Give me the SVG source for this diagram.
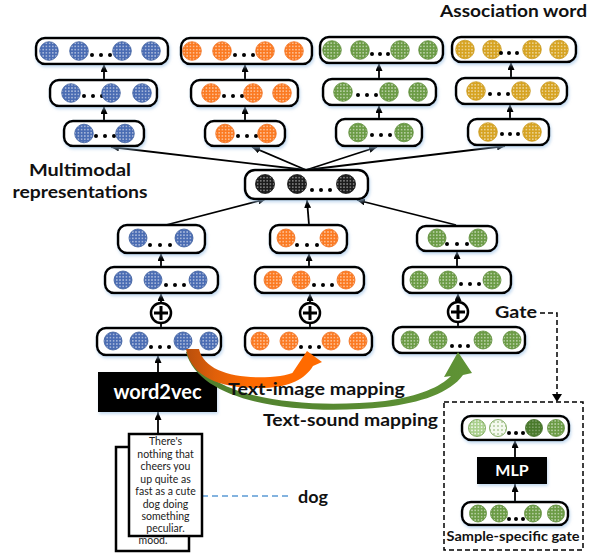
<svg xmlns="http://www.w3.org/2000/svg" width="601" height="555" viewBox="0 0 601 555">
  <style>
    text { font-family: Lato, "Liberation Sans", sans-serif; fill: #111; }
    .lbl { font-weight: bold; font-size: 17.5px; }
    .box { fill: #fff; stroke: #000; stroke-width: 2.5; filter: url(#glow); }
    .blk { fill: #000; filter: url(#glow); }
    .doc { fill: #fff; stroke: #000; stroke-width: 2.5; }
    .dt { font-size: 10.5px; text-anchor: middle; fill: #222; }
    .wt { fill: #fff; font-weight: bold; text-anchor: middle; }
    .b { fill: url(#pB); stroke: #3f5f9e; stroke-width: 0.8; }
    .o { fill: url(#pO); stroke: #f07020; stroke-width: 0.8; }
    .g { fill: url(#pG); stroke: #5e8d3a; stroke-width: 0.8; }
    .y { fill: url(#pY); stroke: #c9981c; stroke-width: 0.8; }
    .k { fill: url(#pK); stroke: #111; stroke-width: 0.8; }
    .gl { fill: url(#pGL); stroke: #6a9a45; stroke-width: 0.8; }
    .gw { fill: url(#pGW); stroke: #6a9a45; stroke-width: 0.8; }
    .gd { fill: url(#pGD); stroke: #3f6a25; stroke-width: 0.8; }
    .dot { fill: #000; }
    .arr { stroke: #000; stroke-width: 1.8; fill: none; marker-end: url(#ah); }
    .ln { stroke: #000; stroke-width: 1.8; fill: none; }
    .dash { stroke: #000; stroke-width: 1.5; fill: none; stroke-dasharray: 5 3; }
  </style>
  <defs>
    <filter id="glow" x="-10%" y="-20%" width="120%" height="150%">
      <feDropShadow dx="1" dy="2" stdDeviation="1.5" flood-color="#9dc3e6" flood-opacity="0.6"/>
    </filter>
    <pattern id="pB" width="3.2" height="3.2" patternUnits="userSpaceOnUse"><rect width="3.2" height="3.2" fill="#4a6cb3"/><circle cx="1.6" cy="1.6" r="0.75" fill="#fff" fill-opacity="0.7"/></pattern>
    <pattern id="pO" width="3.2" height="3.2" patternUnits="userSpaceOnUse"><rect width="3.2" height="3.2" fill="#fb7a22"/><circle cx="1.6" cy="1.6" r="0.75" fill="#fff" fill-opacity="0.7"/></pattern>
    <pattern id="pG" width="3.2" height="3.2" patternUnits="userSpaceOnUse"><rect width="3.2" height="3.2" fill="#6b9b45"/><circle cx="1.6" cy="1.6" r="0.75" fill="#fff" fill-opacity="0.7"/></pattern>
    <pattern id="pY" width="3.2" height="3.2" patternUnits="userSpaceOnUse"><rect width="3.2" height="3.2" fill="#d6a322"/><circle cx="1.6" cy="1.6" r="0.75" fill="#fff" fill-opacity="0.7"/></pattern>
    <pattern id="pK" width="3.2" height="3.2" patternUnits="userSpaceOnUse"><rect width="3.2" height="3.2" fill="#1c1c1c"/><circle cx="1.6" cy="1.6" r="0.75" fill="#fff" fill-opacity="0.6"/></pattern>
    <pattern id="pGL" width="3.2" height="3.2" patternUnits="userSpaceOnUse"><rect width="3.2" height="3.2" fill="#a9cf8c"/><circle cx="1.6" cy="1.6" r="0.9" fill="#fff" fill-opacity="0.9"/></pattern>
    <pattern id="pGW" width="4" height="4" patternUnits="userSpaceOnUse"><rect width="4" height="4" fill="#f4f9ef"/><circle cx="2" cy="2" r="0.7" fill="#6a9a45"/></pattern>
    <pattern id="pGD" width="3.2" height="3.2" patternUnits="userSpaceOnUse"><rect width="3.2" height="3.2" fill="#4a7a2c"/><circle cx="1.6" cy="1.6" r="0.7" fill="#fff" fill-opacity="0.45"/></pattern>
    <marker id="ah" viewBox="0 0 8 7" refX="8" refY="3.5" markerWidth="8" markerHeight="7" markerUnits="userSpaceOnUse" orient="auto">
      <path d="M0,0 L8,3.5 L0,7 z" fill="#000"/>
    </marker>
    <linearGradient id="orangeGrad" x1="186" y1="0" x2="250" y2="0" gradientUnits="userSpaceOnUse">
      <stop offset="0" stop-color="#b84f0c"/>
      <stop offset="0.45" stop-color="#e0600a"/>
      <stop offset="1" stop-color="#ff6a00"/>
    </linearGradient>
    <linearGradient id="greenGrad" x1="190" y1="0" x2="470" y2="0" gradientUnits="userSpaceOnUse">
      <stop offset="0" stop-color="#4f7f2e"/>
      <stop offset="1" stop-color="#5f9335"/>
    </linearGradient>
  </defs>

  <!-- labels -->
  <text class="lbl" x="440" y="17" textLength="147" lengthAdjust="spacingAndGlyphs">Association word</text>
  <text class="lbl" x="80" y="176" text-anchor="middle" textLength="102" lengthAdjust="spacingAndGlyphs">Multimodal</text>
  <text class="lbl" x="80" y="198" text-anchor="middle" textLength="135" lengthAdjust="spacingAndGlyphs">representations</text>

  <!-- connectors -->
  <g id="connectors">
    <!-- association tiers -->
    <path class="arr" d="M104 121 V106"/>
    <path class="arr" d="M104 80 V64"/>
    <path class="arr" d="M245 121 V106"/>
    <path class="arr" d="M245 80 V64"/>
    <path class="arr" d="M379 119 V105"/>
    <path class="arr" d="M379 79 V63"/>
    <path class="arr" d="M510 119 V104"/>
    <path class="arr" d="M511 78 V62"/>
    <!-- multimodal fan-out -->
    <path class="arr" d="M306 170 L111 147"/>
    <path class="arr" d="M306 170 L252 147"/>
    <path class="arr" d="M306 170 L377 147"/>
    <path class="arr" d="M306 170 L505 146"/>
    <!-- modality inputs -->
    <path class="arr" d="M166 225 L266 199"/>
    <path class="arr" d="M309 225 L307 200"/>
    <path class="arr" d="M456 225 L357 200"/>
    <!-- modality stacks -->
    <path class="arr" d="M161 267 V253"/>
    <path class="arr" d="M161 303 V293"/>
    <path class="ln" d="M161 328 V323"/>
    <path class="arr" d="M309 267 V253"/>
    <path class="arr" d="M310 303 V293"/>
    <path class="ln" d="M310 328 V323"/>
    <path class="arr" d="M457 267 V251"/>
    <path class="arr" d="M458 302 V293"/>
    <path class="ln" d="M458 327 V322"/>
    <!-- word2vec path -->
    <path class="arr" d="M158 372 V355"/>
    <path class="arr" d="M158 434 V412"/>
    <!-- gate -->
    <path class="dash" d="M540 313 H557 V395"/>
    <path d="M552 394 L557 402 L562 394 z" fill="#000"/>
    <path class="arr" d="M515 502 V484"/>
    <path class="arr" d="M515 457 V440"/>
    <!-- document to keyword -->
    <path d="M202 496 H290" stroke="#5b9bd5" stroke-width="1.6" stroke-dasharray="6 4" fill="none"/>
  </g>

  <!-- association word tier: text -->
  <g id="assoc-text">
    <g id="at3"><rect class="box" x="36" y="38" width="132" height="26" rx="9"/>
      <circle class="b" cx="49" cy="51" r="9.3"/><circle class="b" cx="79" cy="51" r="9.3"/>
      <circle class="dot" cx="92" cy="55" r="2"/><circle class="dot" cx="101" cy="55" r="2"/><circle class="dot" cx="110" cy="55" r="2"/>
      <circle class="b" cx="122" cy="51" r="9.3"/><circle class="b" cx="151" cy="51" r="9.3"/></g>
    <g id="at2"><rect class="box" x="50" y="80" width="107" height="26" rx="9"/>
      <circle class="b" cx="71" cy="93" r="9.3"/>
      <circle class="dot" cx="84" cy="96" r="2"/><circle class="dot" cx="93" cy="96" r="2"/><circle class="dot" cx="102" cy="96" r="2"/>
      <circle class="b" cx="111" cy="93" r="9.3"/><circle class="b" cx="142" cy="93" r="9.3"/></g>
    <g id="at1"><rect class="box" x="64" y="121" width="80" height="25" rx="9"/>
      <circle class="b" cx="84" cy="133.5" r="9.3"/>
      <circle class="dot" cx="96" cy="136" r="2"/><circle class="dot" cx="105" cy="136" r="2"/><circle class="dot" cx="114" cy="136" r="2"/>
      <circle class="b" cx="125" cy="133.5" r="9.3"/></g>
  </g>
  <g id="assoc-image">
    <g id="ai3"><rect class="box" x="181" y="38" width="131" height="26" rx="9"/>
      <circle class="o" cx="192" cy="51" r="9.3"/><circle class="o" cx="222" cy="51" r="9.3"/>
      <circle class="dot" cx="235" cy="55" r="2"/><circle class="dot" cx="244" cy="55" r="2"/><circle class="dot" cx="253" cy="55" r="2"/>
      <circle class="o" cx="265" cy="51" r="9.3"/><circle class="o" cx="294" cy="51" r="9.3"/></g>
    <g id="ai2"><rect class="box" x="191" y="80" width="107" height="26" rx="9"/>
      <circle class="o" cx="211" cy="93" r="9.3"/>
      <circle class="dot" cx="224" cy="96" r="2"/><circle class="dot" cx="233" cy="96" r="2"/><circle class="dot" cx="242" cy="96" r="2"/>
      <circle class="o" cx="253" cy="93" r="9.3"/><circle class="o" cx="282" cy="93" r="9.3"/></g>
    <g id="ai1"><rect class="box" x="205" y="121" width="80" height="25" rx="9"/>
      <circle class="o" cx="225" cy="133.5" r="9.3"/>
      <circle class="dot" cx="238" cy="136" r="2"/><circle class="dot" cx="247" cy="136" r="2"/><circle class="dot" cx="256" cy="136" r="2"/>
      <circle class="o" cx="267" cy="133.5" r="9.3"/></g>
  </g>
  <g id="assoc-sound">
    <g id="as3"><rect class="box" x="320" y="37" width="123" height="26" rx="9"/>
      <circle class="g" cx="332" cy="50" r="9.3"/><circle class="g" cx="360" cy="50" r="9.3"/>
      <circle class="dot" cx="372" cy="54" r="2"/><circle class="dot" cx="380" cy="54" r="2"/><circle class="dot" cx="388" cy="54" r="2"/>
      <circle class="g" cx="400" cy="50" r="9.3"/><circle class="g" cx="428" cy="50" r="9.3"/></g>
    <g id="as2"><rect class="box" x="323" y="79" width="113" height="26" rx="9"/>
      <circle class="g" cx="343" cy="92" r="9.3"/>
      <circle class="dot" cx="358" cy="95" r="2"/><circle class="dot" cx="367" cy="95" r="2"/><circle class="dot" cx="376" cy="95" r="2"/>
      <circle class="g" cx="389" cy="92" r="9.3"/><circle class="g" cx="418" cy="92" r="9.3"/></g>
    <g id="as1"><rect class="box" x="336" y="119" width="86" height="27" rx="9"/>
      <circle class="g" cx="358" cy="132.5" r="9.3"/>
      <circle class="dot" cx="372" cy="135" r="2"/><circle class="dot" cx="381" cy="135" r="2"/><circle class="dot" cx="390" cy="135" r="2"/>
      <circle class="g" cx="404" cy="132.5" r="9.3"/></g>
  </g>
  <g id="assoc-fused">
    <g id="af3"><rect class="box" x="452" y="37" width="124" height="25" rx="9"/>
      <circle class="y" cx="465" cy="49.5" r="9.3"/><circle class="y" cx="492" cy="49.5" r="9.3"/>
      <circle class="dot" cx="501" cy="53" r="2"/><circle class="dot" cx="509" cy="53" r="2"/><circle class="dot" cx="517" cy="53" r="2"/>
      <circle class="y" cx="532" cy="49.5" r="9.3"/><circle class="y" cx="559" cy="49.5" r="9.3"/></g>
    <g id="af2"><rect class="box" x="456" y="78" width="111" height="26" rx="9"/>
      <circle class="y" cx="476" cy="91" r="9.3"/>
      <circle class="dot" cx="490" cy="94" r="2"/><circle class="dot" cx="499" cy="94" r="2"/><circle class="dot" cx="508" cy="94" r="2"/>
      <circle class="y" cx="521" cy="91" r="9.3"/><circle class="y" cx="550" cy="91" r="9.3"/></g>
    <g id="af1"><rect class="box" x="468" y="119" width="81" height="26" rx="9"/>
      <circle class="y" cx="488" cy="132" r="9.3"/>
      <circle class="dot" cx="502" cy="134" r="2"/><circle class="dot" cx="510" cy="134" r="2"/><circle class="dot" cx="518" cy="134" r="2"/>
      <circle class="y" cx="532" cy="132" r="9.3"/></g>
  </g>

  <!-- multimodal representation -->
  <g id="multimodal"><rect class="box" x="245" y="170" width="123" height="29" rx="10"/>
    <circle class="k" cx="265" cy="184" r="9.5"/><circle class="k" cx="297" cy="184" r="9.5"/>
    <circle class="dot" cx="312" cy="190" r="2"/><circle class="dot" cx="321" cy="190" r="2"/><circle class="dot" cx="330" cy="190" r="2"/>
    <circle class="k" cx="346" cy="184" r="9.5"/></g>

  <!-- text branch -->
  <g id="text-branch">
    <g id="t3"><rect class="box" x="118" y="225" width="87" height="28" rx="9"/>
      <circle class="b" cx="138" cy="238" r="9"/>
      <circle class="dot" cx="150" cy="245" r="2"/><circle class="dot" cx="160" cy="245" r="2"/><circle class="dot" cx="170" cy="245" r="2"/>
      <circle class="b" cx="184" cy="238" r="9"/></g>
    <g id="t2"><rect class="box" x="105" y="267" width="113" height="26" rx="9"/>
      <circle class="b" cx="123" cy="280" r="9"/><circle class="b" cx="153" cy="280" r="9"/>
      <circle class="dot" cx="166" cy="285" r="2"/><circle class="dot" cx="175" cy="285" r="2"/><circle class="dot" cx="184" cy="285" r="2"/>
      <circle class="b" cx="198" cy="280" r="9"/></g>
    <g id="t-sum"><circle cx="161" cy="313" r="10" fill="#fff" stroke="#000" stroke-width="2.5"/>
      <path d="M154 313 H168 M161 306 V320" stroke="#000" stroke-width="3"/></g>
    <g id="t1"><rect class="box" x="97" y="328" width="124" height="27" rx="9"/>
      <circle class="b" cx="113" cy="341" r="9"/><circle class="b" cx="139" cy="341" r="9"/>
      <circle class="dot" cx="151" cy="347" r="2"/><circle class="dot" cx="160" cy="347" r="2"/><circle class="dot" cx="169" cy="347" r="2"/>
      <circle class="b" cx="183" cy="341" r="9"/><circle class="b" cx="209" cy="341" r="9"/></g>
  </g>

  <!-- image branch -->
  <g id="image-branch">
    <g id="i3"><rect class="box" x="270" y="225" width="77" height="28" rx="9"/>
      <circle class="o" cx="286" cy="238" r="9"/>
      <circle class="dot" cx="297" cy="245" r="2"/><circle class="dot" cx="307" cy="245" r="2"/><circle class="dot" cx="317" cy="245" r="2"/>
      <circle class="o" cx="329" cy="238" r="9"/></g>
    <g id="i2"><rect class="box" x="255" y="267" width="109" height="26" rx="9"/>
      <circle class="o" cx="273" cy="280" r="9"/><circle class="o" cx="301" cy="280" r="9"/>
      <circle class="dot" cx="314" cy="285" r="2"/><circle class="dot" cx="323" cy="285" r="2"/><circle class="dot" cx="332" cy="285" r="2"/>
      <circle class="o" cx="346" cy="280" r="9"/></g>
    <g id="i-sum"><circle cx="310" cy="313" r="10" fill="#fff" stroke="#000" stroke-width="2.5"/>
      <path d="M303 313 H317 M310 306 V320" stroke="#000" stroke-width="3"/></g>
    <g id="i1"><rect class="box" x="245" y="328" width="127" height="27" rx="9"/>
      <circle class="o" cx="260" cy="341" r="9"/><circle class="o" cx="289" cy="341" r="9"/>
      <circle class="dot" cx="301" cy="347" r="2"/><circle class="dot" cx="310" cy="347" r="2"/><circle class="dot" cx="319" cy="347" r="2"/>
      <circle class="o" cx="331" cy="341" r="9"/><circle class="o" cx="358" cy="341" r="9"/></g>
  </g>

  <!-- sound branch -->
  <g id="sound-branch">
    <g id="s3"><rect class="box" x="417" y="226" width="80" height="25" rx="9"/>
      <circle class="g" cx="437" cy="238" r="9"/>
      <circle class="dot" cx="447" cy="244" r="2"/><circle class="dot" cx="457" cy="244" r="2"/><circle class="dot" cx="467" cy="244" r="2"/>
      <circle class="g" cx="478" cy="238" r="9"/></g>
    <g id="s2"><rect class="box" x="403" y="267" width="108" height="26" rx="9"/>
      <circle class="g" cx="419" cy="280" r="9"/><circle class="g" cx="448" cy="280" r="9"/>
      <circle class="dot" cx="461" cy="284" r="2"/><circle class="dot" cx="470" cy="284" r="2"/><circle class="dot" cx="479" cy="284" r="2"/>
      <circle class="g" cx="492" cy="280" r="9"/></g>
    <g id="s-sum"><circle cx="458" cy="312" r="10" fill="#fff" stroke="#000" stroke-width="2.5"/>
      <path d="M451 312 H465 M458 305 V319" stroke="#000" stroke-width="3"/></g>
    <g id="s1"><rect class="box" x="393" y="327" width="132" height="26" rx="9"/>
      <circle class="g" cx="410" cy="340" r="9"/><circle class="g" cx="438" cy="340" r="9"/>
      <circle class="dot" cx="452" cy="346" r="2"/><circle class="dot" cx="460" cy="346" r="2"/><circle class="dot" cx="468" cy="346" r="2"/>
      <circle class="g" cx="483" cy="340" r="9"/><circle class="g" cx="512" cy="340" r="9"/></g>
  </g>

  <text class="lbl" x="495" y="318" textLength="42" lengthAdjust="spacingAndGlyphs">Gate</text>

  <!-- word2vec encoder -->
  <g id="word2vec"><rect class="blk" x="98" y="372" width="119" height="40"/>
    <text class="wt" x="157.5" y="399" font-size="20">word2vec</text></g>

  <!-- cross-modal mapping arrows -->
  <g id="mapping-arrows">
    <path d="M189 351 C205 398, 300 410, 385 401 C420 396, 440 387, 451 376 L444 377 L458 352 L472 373 L463 375 C450 393, 420 403, 385 407 C300 416, 200 404, 186 352 Z" fill="url(#greenGrad)"/>
    <path d="M199 349 C204 371, 235 379, 270 377 C285 376, 294 373, 299 370 L291 375 L307 351 L322 362 L313 366 C305 379, 290 387, 265 388 C225 389, 192 380, 186 349 Z" fill="url(#orangeGrad)"/>
  </g>
  <text class="lbl" x="228" y="395" textLength="177" lengthAdjust="spacingAndGlyphs">Text-image mapping</text>
  <text class="lbl" x="263" y="426" textLength="175" lengthAdjust="spacingAndGlyphs">Text-sound mapping</text>

  <!-- input documents -->
  <g id="documents">
    <rect class="doc" x="116" y="447" width="73" height="104"/>
    <text class="dt" x="153" y="544">mood.</text>
    <rect class="doc" x="129" y="434" width="73" height="102"/>
    <text class="dt" x="165.5" y="445">There's</text>
    <text class="dt" x="165.5" y="458">nothing that</text>
    <text class="dt" x="165.5" y="470">cheers you</text>
    <text class="dt" x="165.5" y="483">up quite as</text>
    <text class="dt" x="165.5" y="495">fast as a cute</text>
    <text class="dt" x="165.5" y="508">dog doing</text>
    <text class="dt" x="165.5" y="520">something</text>
    <text class="dt" x="165.5" y="532">peculiar.</text>
  </g>
  <text class="lbl" x="298" y="503" font-size="19" textLength="30" lengthAdjust="spacingAndGlyphs">dog</text>

  <!-- sample-specific gate -->
  <g id="gate">
    <rect x="444" y="402" width="139" height="148" fill="none" stroke="#000" stroke-width="1.5" stroke-dasharray="5 3"/>
    <g id="gate-out"><rect class="box" x="462" y="416" width="107" height="24" rx="9"/>
      <circle class="gl" cx="477" cy="428" r="8.5"/><circle class="gw" cx="498" cy="428" r="8.5"/>
      <circle class="dot" cx="509" cy="433" r="2"/><circle class="dot" cx="516" cy="433" r="2"/><circle class="dot" cx="523" cy="433" r="2"/>
      <circle class="gd" cx="534" cy="428" r="8.5"/><circle class="g" cx="556" cy="428" r="8.5"/></g>
    <g id="mlp"><rect class="blk" x="477" y="457" width="70" height="27"/>
      <text class="wt" x="512" y="476" font-size="16">MLP</text></g>
    <g id="gate-in"><rect class="box" x="462" y="502" width="106" height="23" rx="9"/>
      <circle class="g" cx="478" cy="513.5" r="8.5"/><circle class="g" cx="499" cy="513.5" r="8.5"/>
      <circle class="dot" cx="509" cy="519" r="2"/><circle class="dot" cx="516" cy="519" r="2"/><circle class="dot" cx="523" cy="519" r="2"/>
      <circle class="g" cx="533" cy="513.5" r="8.5"/><circle class="g" cx="556" cy="513.5" r="8.5"/></g>
    <text x="513" y="541" font-size="14" font-weight="bold" text-anchor="middle" textLength="133" lengthAdjust="spacingAndGlyphs">Sample-specific gate</text>
  </g>
</svg>
